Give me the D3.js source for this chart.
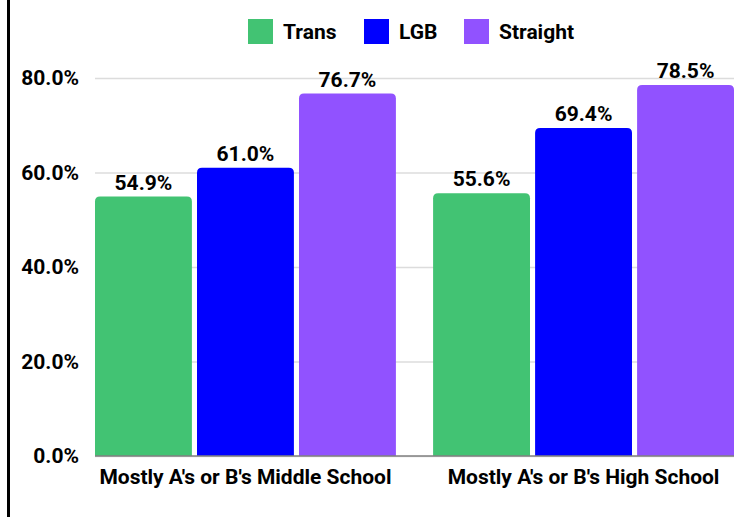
<!DOCTYPE html>
<html>
<head>
<meta charset="utf-8">
<script src="https://cdn.jsdelivr.net/npm/d3@7"></script>
<style>
  body { margin: 0; background: #fff; }
  svg { display: block; font-family: Roboto, "Noto Sans", sans-serif; font-weight: bold; }
</style>
</head>
<body>
<div id="chart"></div>
<script>
const categories = ["Mostly A's or B's Middle School", "Mostly A's or B's High School"];
const seriesNames = ["Trans", "LGB", "Straight"];
const trans = [54.9, 55.6];
const lgb = [61.0, 69.4];
const straight = [76.7, 78.5];
const yTicks = [0, 20, 40, 60, 80];

const colors = ["#42c373", "#0000ff", "#9152ff"];
const seriesValues = [trans, lgb, straight];

const width = 756;
const height = 517;
const margin = {top: 78, right: 22, bottom: 61, left: 95};

const svg = d3.select("#chart").append("svg")
    .attr("width", width)
    .attr("height", height);

// black rule down the left edge
svg.append("rect")
    .attr("x", 7).attr("y", 0)
    .attr("width", 3).attr("height", height)
    .attr("fill", "#000");

/* Scales */
const x0 = d3.scaleBand()
    .domain(categories)
    .range([margin.left, width - margin.right])
    .paddingInner(0.11)
    .paddingOuter(0);

const x1 = d3.scaleBand()
    .domain(seriesNames)
    .range([0, x0.bandwidth()])
    .paddingInner(0.05);

const y = d3.scaleLinear()
    .domain([0, 80])
    .range([height - margin.bottom, margin.top]);

/* Gridlines + y labels */
const yAxis = d3.axisLeft(y)
    .tickValues(yTicks)
    .tickSize(-(width - margin.left - margin.right))
    .tickPadding(16)
    .tickFormat(d => d.toFixed(1) + "%");

const gy = svg.append("g")
    .attr("transform", `translate(${margin.left},0)`)
    .call(yAxis);
gy.select(".domain").remove();
gy.selectAll(".tick line").attr("stroke", "#dcdcdc").attr("stroke-width", 1.5);
gy.selectAll(".tick text")
    .attr("fill", "#000")
    .style("font-size", "21px")
    .style("font-weight", "bold")
    .style("font-family", "Roboto, sans-serif");

/* Bars */
const rx = 5;
function topRounded(x, yTop, w, yBase) {
    const r = Math.min(rx, w / 2, (yBase - yTop) / 2);
    return `M${x},${yBase}V${yTop + r}Q${x},${yTop} ${x + r},${yTop}` +
           `H${x + w - r}Q${x + w},${yTop} ${x + w},${yTop + r}V${yBase}Z`;
}

const rows = [];
categories.forEach((c, ci) => {
    seriesNames.forEach((s, si) => {
        rows.push({cat: c, series: s, value: seriesValues[si][ci], color: colors[si]});
    });
});

const bars = svg.append("g").attr("class", "bars");
bars.selectAll("path")
    .data(rows).enter()
    .append("path")
    .attr("d", d => topRounded(x0(d.cat) + x1(d.series), y(d.value), x1.bandwidth(), y(0)))
    .attr("fill", d => d.color);

bars.selectAll("text")
    .data(rows).enter()
    .append("text")
    .attr("x", d => x0(d.cat) + x1(d.series) + x1.bandwidth() / 2)
    .attr("y", d => y(d.value) - 7)
    .attr("text-anchor", "middle")
    .attr("fill", "#000")
    .style("font-size", "21px")
    .text(d => d.value.toFixed(1) + "%");

/* Baseline */
svg.append("line")
    .attr("x1", margin.left).attr("x2", width - margin.right)
    .attr("y1", y(0)).attr("y2", y(0))
    .attr("stroke", "#808080").attr("stroke-width", 1.5);

/* Category labels */
svg.append("g").selectAll("text")
    .data(categories).enter()
    .append("text")
    .attr("x", d => x0(d) + x0.bandwidth() / 2)
    .attr("y", y(0) + 28)
    .attr("text-anchor", "middle")
    .attr("fill", "#000")
    .style("font-size", "21px")
    .text(d => d);

/* Legend */
const legendX = [248, 364, 464];
const legend = svg.append("g").attr("class", "legend");
const items = legend.selectAll("g")
    .data(seriesNames).enter()
    .append("g")
    .attr("transform", (d, i) => `translate(${legendX[i]},19)`);
items.append("rect")
    .attr("width", 25).attr("height", 25)
    .attr("fill", (d, i) => colors[i]);
items.append("text")
    .attr("x", 35).attr("y", 12.5)
    .attr("dy", "0.35em")
    .attr("fill", "#000")
    .style("font-size", "21px")
    .text(d => d);
</script>
</body>
</html>
